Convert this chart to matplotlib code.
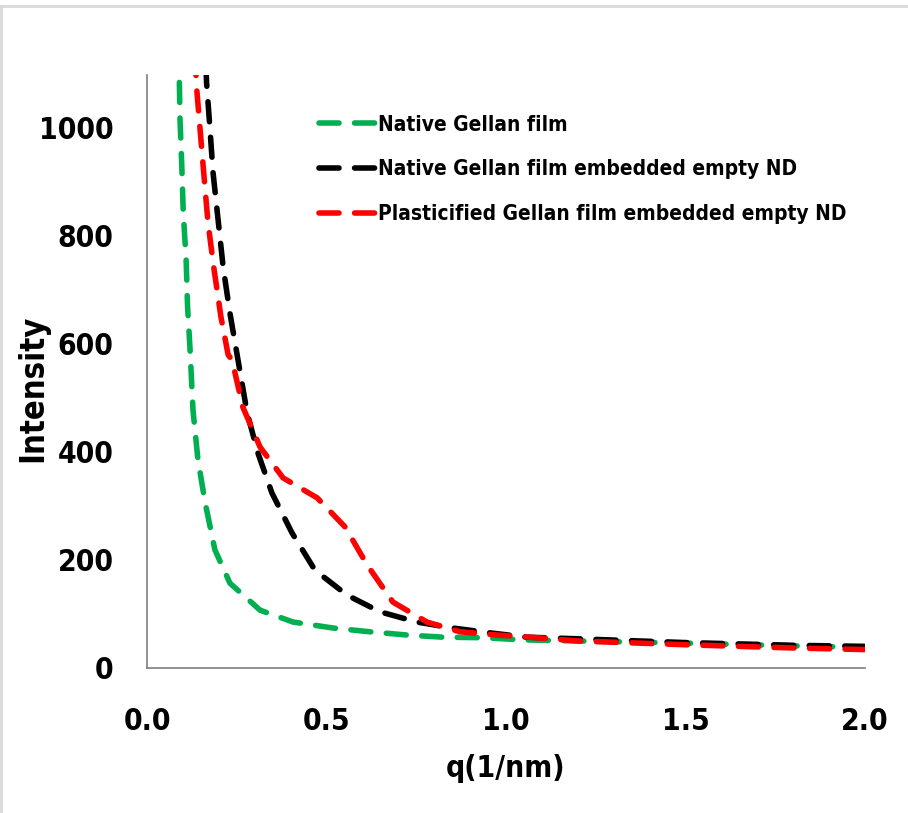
import matplotlib.pyplot as plt
from matplotlib.lines import Line2D

plt.rcParams['font.family'] = ['DejaVu Sans']
plt.rcParams['font.stretch'] = 'condensed'
plt.rcParams['font.weight'] = 'bold'

# Values
q_native = [0.085, 0.090, 0.092, 0.097, 0.101, 0.109, 0.113, 0.120, 0.128, 0.142, 0.162, 0.189,
            0.231, 0.315, 0.407, 0.518, 0.621, 0.724, 0.824, 0.936, 1.047, 1.2, 1.5, 1.8, 2.0]
i_native = [1150, 1089, 1015, 928, 843, 756, 669, 589, 478, 385, 306, 219,
            157, 107, 85, 74, 67, 61, 57, 56, 52, 50, 46, 41, 38]

q_empty = [0.160, 0.166, 0.175, 0.184, 0.198, 0.212, 0.231, 0.251, 0.279, 0.309, 0.348,
           0.404, 0.468, 0.557, 0.649, 0.752, 0.852, 0.955, 1.058, 1.2, 1.5, 1.8, 2.0]
i_empty = [1180, 1083, 1002, 917, 830, 743, 657, 580, 472, 398, 324,
           250, 181, 135, 104, 85, 74, 65, 57, 54, 47, 42, 40]

q_plast = [0.130, 0.138, 0.148, 0.159, 0.170, 0.187, 0.206, 0.226, 0.237, 0.267, 0.315,
           0.379, 0.474, 0.552, 0.613, 0.685, 0.780, 0.872, 0.975, 1.086, 1.2, 1.5, 1.8, 2.0]
i_plast = [1200, 1076, 996, 909, 824, 737, 650, 580, 570, 483, 409,
           352, 315, 261, 191, 122, 85, 67, 61, 56, 50, 43, 37, 34]

labels = ['Native Gellan film',
          'Native Gellan film embedded empty ND',
          'Plasticified Gellan film embedded empty ND']
colors = ['#00b050', '#000000', '#ff0000']
dash = (0, (3.6, 2.8))

fig = plt.figure(figsize=(9.08, 8.13), dpi=100)
ax = fig.add_axes([0.1619, 0.1784, 0.7907, 0.7293])

for q, i, c in zip([q_native, q_empty, q_plast], [i_native, i_empty, i_plast], colors):
    ax.plot(q, i, color=c, lw=4.0, linestyle=dash, dash_capstyle='round')

ax.set_xlim(0, 2.0)
ax.set_ylim(0, 1098)
ax.set_xticks([0.0, 0.5, 1.0, 1.5, 2.0])
ax.set_xticklabels(['0.0', '0.5', '1.0', '1.5', '2.0'])
ax.set_yticks([0, 200, 400, 600, 800, 1000])
ax.tick_params(length=0, labelsize=21.5, pad=24)
ax.tick_params(axis='x', pad=28)
for s in ['top', 'right']:
    ax.spines[s].set_visible(False)
for s in ['left', 'bottom']:
    ax.spines[s].set_color('#7f7f7f')
    ax.spines[s].set_linewidth(1.2)

ax.set_xlabel('q(1/nm)', fontsize=21.5, fontweight='bold')
ax.set_ylabel('Intensity', fontsize=23.5, fontweight='bold')
ax.xaxis.set_label_coords(0.5, -0.145)
ax.yaxis.set_label_coords(-0.136, 0.472)

handles = [Line2D([], [], color=c, lw=4.0, linestyle=dash, dash_capstyle='round')
           for c in colors]
ax.legend(handles, labels, loc='upper left', bbox_to_anchor=(0.331, 0.882),
          bbox_transform=fig.transFigure, frameon=False, fontsize=15,
          handlelength=2.7, handletextpad=0.12, labelspacing=1.19)

# thin gray frame around the picture
fig.add_artist(Line2D([0.001, 1.0], [0.9926, 0.9926], color='#d9d9d9', lw=2, transform=fig.transFigure))
fig.add_artist(Line2D([0.001, 0.001], [0, 0.9926], color='#d9d9d9', lw=2, transform=fig.transFigure))

fig.savefig('out.png', dpi=100)
